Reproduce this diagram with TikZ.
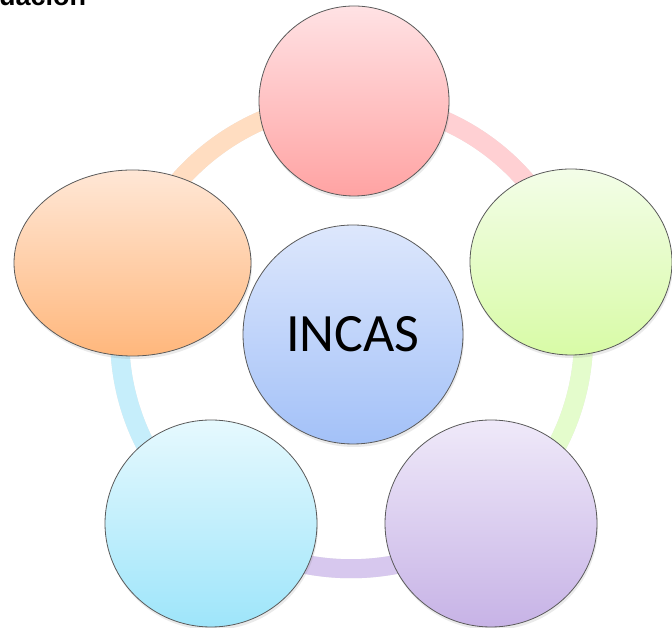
\documentclass[tikz,border=0pt]{standalone}
\usepackage{fontspec}
\setmainfont{Carlito}
\newfontfamily\headfont{Liberation Sans}
\usetikzlibrary{shapes.geometric,shadows}
\pgfdeclarelayer{paper}
\pgfdeclarelayer{ringlayer}
\pgfsetlayers{paper,ringlayer,main}
\definecolor{redT}{HTML}{FFE2E4}
\definecolor{redB}{HTML}{FFA3A3}
\definecolor{redR}{HTML}{FFD0D3}
\definecolor{grnT}{HTML}{F3FDE8}
\definecolor{grnB}{HTML}{D8FBA6}
\definecolor{grnR}{HTML}{E4FCCC}
\definecolor{purT}{HTML}{EFE9F9}
\definecolor{purB}{HTML}{C7B3E6}
\definecolor{purR}{HTML}{D7C8EE}
\definecolor{cyaT}{HTML}{E6F9FE}
\definecolor{cyaB}{HTML}{9EE5FA}
\definecolor{cyaR}{HTML}{C6EEFB}
\definecolor{oraT}{HTML}{FFE7D6}
\definecolor{oraB}{HTML}{FFB77C}
\definecolor{oraR}{HTML}{FFDDC1}
\definecolor{bluT}{HTML}{DDE7FC}
\definecolor{bluB}{HTML}{A3C1F8}
\definecolor{edge}{HTML}{5A5A5A}
\tikzset{
  bubble/.style={ellipse, draw=edge, line width=0.8pt, inner sep=0pt,
    shading=axis, shading angle=0,
    drop shadow={opacity=0.16, shadow xshift=1pt, shadow yshift=-3pt}},
  ringarc/.style={line width=19pt, bend left=36, looseness=0.94},
  ringshadow/.style={line width=19pt, bend left=36, looseness=0.94, black, opacity=0.10}
}
\begin{document}
\begin{tikzpicture}[x=1pt,y=1pt]
\useasboundingbox (0,0) rectangle (672,628);
\clip (0,0) rectangle (672,628);
\begin{pgfonlayer}{paper}
  \fill[white] (0,0) rectangle (672,628);
\end{pgfonlayer}
% nodes
\node[bubble, minimum width=190pt, minimum height=190pt, top color=redT, bottom color=redB] (top) at (354,527) {};
\node[bubble, minimum width=202pt, minimum height=186pt, top color=grnT, bottom color=grnB] (right) at (571,366) {};
\node[bubble, minimum width=212pt, minimum height=207pt, top color=purT, bottom color=purB] (br) at (491,104.5) {};
\node[bubble, minimum width=212pt, minimum height=207pt, top color=cyaT, bottom color=cyaB] (bl) at (211,104.5) {};
\node[bubble, minimum width=237pt, minimum height=186pt, top color=oraT, bottom color=oraB] (left) at (132.5,365) {};
\node[bubble, minimum width=220pt, minimum height=219pt, top color=bluT, bottom color=bluB, font=\fontsize{54}{60}\selectfont] (mid) at (353,293.5) {INCAS};
% ring
\begin{pgfonlayer}{ringlayer}
  \begin{scope}[shift={(1pt,-3pt)}]
    \draw[ringshadow] (top.center) to (right.center);
    \draw[ringshadow] (right.center) to (br.center);
    \draw[ringshadow] (br.center) to (bl.center);
    \draw[ringshadow] (bl.center) to (left.center);
    \draw[ringshadow] (left.center) to (top.center);
  \end{scope}
  \draw[ringarc, redR] (top.center) to (right.center);
  \draw[ringarc, grnR] (right.center) to (br.center);
  \draw[ringarc, purR] (br.center) to (bl.center);
  \draw[ringarc, cyaR] (bl.center) to (left.center);
  \draw[ringarc, oraR] (left.center) to (top.center);
\end{pgfonlayer}
% cut-off heading
\node[anchor=base west, inner sep=0pt, font=\headfont\bfseries\fontsize{27}{30}\selectfont] (head) at (-1,622) {uación};
\end{tikzpicture}
\end{document}
